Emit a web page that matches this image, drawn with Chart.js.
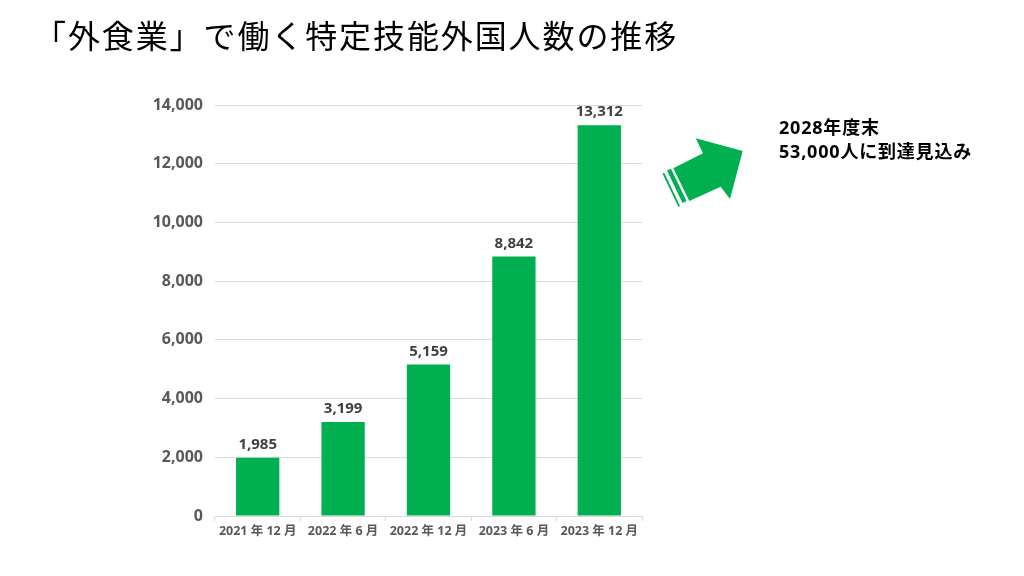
<!DOCTYPE html>
<html lang="ja">
<head>
<meta charset="utf-8">
<script src="https://cdn.jsdelivr.net/npm/chart.js@4"></script>
<style>
  html, body { margin: 0; padding: 0; background: #fff; }
  #wrap { position: relative; width: 1024px; height: 576px; overflow: hidden; }
  #chart { position: absolute; left: 0; top: 0; }
  #title { position: absolute; left: 34px; top: 11px; font-family: "Noto Sans CJK JP", sans-serif; font-size: 32px; font-weight: 400; color: #000; white-space: nowrap; letter-spacing: 1.9px; }
  #note { position: absolute; left: 779px; top: 115px; font-family: "Open Sans", "Noto Sans CJK JP", sans-serif; font-size: 18px; font-weight: 700; color: #000; line-height: 24px; white-space: nowrap; letter-spacing: 0.8px; }
  #arrow { position: absolute; left: 0; top: 0; }
</style>
</head>
<body>
<div id="wrap">
  <canvas id="chart" width="1024" height="576"></canvas>
  <div id="title">「外食業」で働く特定技能外国人数の推移</div>
  <div id="note">2028年度末<br>53,000人に到達見込み</div>
  <svg id="arrow" width="1024" height="576">
    <polygon points="673.3,168.3 703,153.3 695.7,138.3 742.7,151 730,199 720.7,186.7 689.3,201" fill="#00B050"/>
    <polygon points="667,170.5 671,168.8 686.5,201 682.5,203" fill="#00B050"/>
    <polygon points="662.5,173.5 664.3,172.7 680,206 678.3,206.8" fill="#00B050"/>
  </svg>
</div>
<script>
const categories = ["2021 年 12 月", "2022 年 6 月", "2022 年 12 月", "2023 年 6 月", "2023 年 12 月"];
const values = [1985, 3199, 5159, 8842, 13312];
const yMax = 14000;
const yStep = 2000;

const FONT = '"Open Sans", "Noto Sans CJK JP", sans-serif';

const dataLabels = {
  id: 'dataLabels',
  afterDatasetsDraw(chart) {
    const ctx = chart.ctx;
    const meta = chart.getDatasetMeta(0);
    ctx.save();
    ctx.font = 'bold 15px ' + FONT;
    ctx.fillStyle = '#404040';
    ctx.textAlign = 'center';
    ctx.textBaseline = 'middle';
    meta.data.forEach((bar, i) => {
      const v = chart.data.datasets[0].data[i];
      ctx.fillText(v.toLocaleString('en-US'), bar.x, bar.y - 13);
    });
    ctx.restore();
  }
};

new Chart(document.getElementById('chart'), {
  type: 'bar',
  data: {
    labels: categories,
    datasets: [{
      data: values,
      backgroundColor: '#00B050',
      borderWidth: 0,
      barPercentage: 0.507,
      categoryPercentage: 1.0
    }]
  },
  options: {
    responsive: false,
    animation: false,
    events: [],
    layout: { padding: { left: 0, right: 382, top: 105, bottom: 30 } },
    plugins: { legend: { display: false }, tooltip: { enabled: false }, title: { display: false } },
    scales: {
      x: {
        afterFit(s) { s.height = 30; },
        grid: { display: true, drawOnChartArea: false, drawTicks: true, tickLength: 5, color: '#d9d9d9', offset: true },
        border: { display: true, color: '#d9d9d9', width: 1 },
        ticks: { font: { family: FONT, size: 12.5, weight: 'bold' }, color: '#595959', padding: 3, maxRotation: 0, autoSkip: false }
      },
      y: {
        min: 0,
        max: yMax,
        afterFit(s) { s.width = 215; },
        grid: { color: '#d9d9d9', drawTicks: false, lineWidth: 1 },
        border: { display: false },
        ticks: { stepSize: yStep, font: { family: FONT, size: 16, weight: 'bold' }, color: '#595959', padding: 12,
                 callback: (v) => v.toLocaleString('en-US') }
      }
    }
  },
  plugins: [dataLabels]
});
</script>
</body>
</html>
